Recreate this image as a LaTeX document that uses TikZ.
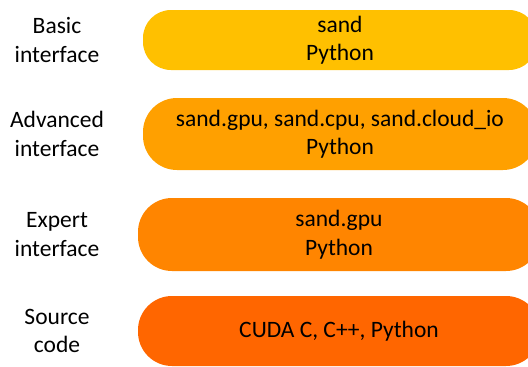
\documentclass[tikz,border=0pt]{standalone}
\usepackage{fontspec}
\setmainfont{Carlito}
\definecolor{cA}{RGB}{255,192,0}
\definecolor{cB}{RGB}{255,160,0}
\definecolor{cC}{RGB}{255,133,0}
\definecolor{cD}{RGB}{255,102,0}
\tikzset{
  pill/.style={draw=none, rectangle, align=center, inner sep=0pt,
    font=\fontsize{23.5}{28.5}\selectfont, text=black},
  lbl/.style={align=center, inner sep=0pt, font=\fontsize{23.5}{28.5}\selectfont, text=black}
}
\begin{document}
\begin{tikzpicture}[x=1pt,y=-1pt]
\useasboundingbox (0,0) rectangle (528,367);
\clip (0,0) rectangle (528,367);
\node[pill, fill=cA, minimum width=394pt, minimum height=60pt, rounded corners=28pt] (p1) at (340,40) {sand\\Python};
\node[pill, fill=cB, minimum width=394pt, minimum height=72pt, rounded corners=34pt] (p2) at (340,134) {sand.gpu, sand.cpu, sand.cloud\_io\\Python};
\node[pill, fill=cC, minimum width=402pt, minimum height=73pt, rounded corners=34pt] (p3) at (339,234.5) {sand.gpu\\Python};
\node[pill, fill=cD, minimum width=402pt, minimum height=70pt, rounded corners=34pt] (p4) at (339,331) {CUDA C, C++, Python};
\node[lbl] (l1) at (57,40) {Basic\\interface};
\node[lbl] (l2) at (57,134) {Advanced\\interface};
\node[lbl] (l3) at (57,234.5) {Expert\\interface};
\node[lbl] (l4) at (57,331) {Source\\code};
\end{tikzpicture}
\end{document}
